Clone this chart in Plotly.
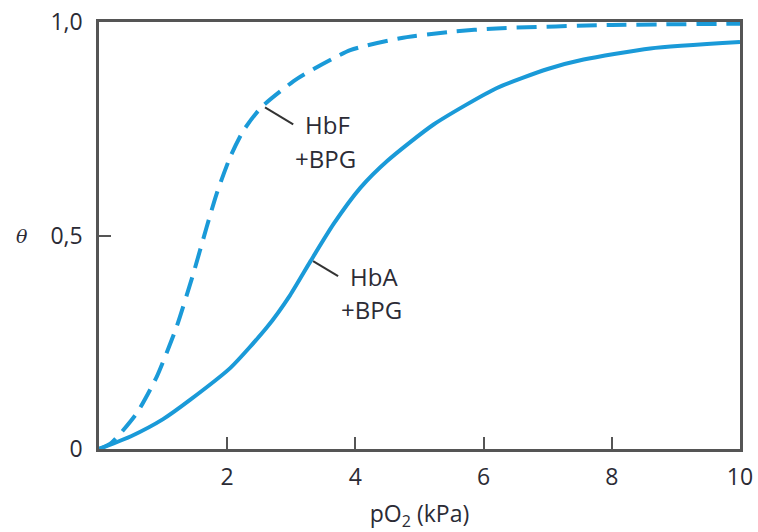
import plotly.graph_objects as go

# pO2 (kPa) and saturation theta
hba_x = [0, 0.5, 1.0, 1.42, 2.05, 2.62, 2.98, 3.30, 3.66, 4.08, 4.5, 5.22, 6.2, 7.0, 7.56, 8.6, 10]
hba_y = [0, 0.03, 0.07, 0.115, 0.19, 0.285, 0.36, 0.44, 0.527, 0.612, 0.675, 0.76, 0.845, 0.89, 0.912, 0.938, 0.953]

hbf_x = [0, 0.19, 0.59, 0.90, 1.21, 1.47, 1.68, 1.84, 2.05, 2.25, 2.53, 3.1, 3.92, 4.7, 5.48, 6.2, 8, 10]
hbf_y = [0, 0.014, 0.084, 0.169, 0.286, 0.41, 0.52, 0.60, 0.685, 0.745, 0.80, 0.868, 0.934, 0.962, 0.977, 0.985, 0.993, 0.996]

x_ticks = [2, 4, 6, 8, 10]
x_ticktext = ["2", "4", "6", "8", "10"]
y_ticks = [0, 0.5, 1.0]
y_ticktext = ["0", "0,5", "1,0"]

BLUE = "#1a9ad8"
AXIS = "#555555"
TXT = "#2b2b35"
FONT = "Open Sans"

fig = go.Figure()
fig.add_trace(go.Scatter(x=hbf_x, y=hbf_y, mode="lines", line=dict(color=BLUE, width=4, dash="20px,10px", shape="spline", smoothing=0.6), showlegend=False))
fig.add_trace(go.Scatter(x=hba_x, y=hba_y, mode="lines", line=dict(color=BLUE, width=4, shape="spline", smoothing=0.6), showlegend=False))

# leader lines
fig.add_shape(type="line", x0=2.59, y0=0.80, x1=3.03, y1=0.76, line=dict(color="#333333", width=2))
fig.add_shape(type="line", x0=3.34, y0=0.44, x1=3.73, y1=0.405, line=dict(color="#333333", width=2))

def lab(x, y, t):
    fig.add_annotation(x=x, y=y, text=t, showarrow=False, xanchor="left", yanchor="middle",
                       font=dict(family=FONT, size=24, color=TXT))

lab(3.18, 0.761, "HbF")
lab(3.02, 0.681, "+BPG")
lab(3.88, 0.403, "HbA")
lab(3.74, 0.326, "+BPG")

fig.add_annotation(xref="paper", yref="paper", x=-0.12, y=0.5, text="<i>θ</i>", showarrow=False,
                   xanchor="center", yanchor="middle",
                   font=dict(family="DejaVu Serif", size=19, color=TXT))

fig.update_layout(
    width=758, height=532,
    margin=dict(l=99, r=18, t=22, b=83),
    plot_bgcolor="white", paper_bgcolor="white",
    font=dict(family=FONT, size=24, color=TXT),
    xaxis=dict(range=[0, 10], tickvals=x_ticks, ticktext=x_ticktext, ticks="inside", ticklen=12,
               tickwidth=2, tickcolor=AXIS, showline=True, linecolor=AXIS, linewidth=2.5, mirror=True,
               showgrid=False, zeroline=False, ticklabelstandoff=6, automargin=False,
               ticklabeloverflow="allow",
               tickfont=dict(family=FONT, size=23, color=TXT),
               title=dict(text="pO<sub>2</sub> (kPa)", font=dict(family=FONT, size=23, color=TXT), standoff=20)),
    yaxis=dict(range=[0, 1.0], tickvals=y_ticks, ticktext=y_ticktext, ticks="inside", ticklen=12,
               tickwidth=2, tickcolor=AXIS, showline=True, linecolor=AXIS, linewidth=2.5, mirror=True,
               showgrid=False, zeroline=False, ticklabelstandoff=9, automargin=False,
               ticklabeloverflow="allow",
               tickfont=dict(family=FONT, size=23, color=TXT)),
)

# remove the default page margin so the 758x532 figure fills the window exactly
fig.write_html("out.html", config={"displayModeBar": False},
               post_script="document.body.style.margin='0';document.body.style.overflow='hidden';")
